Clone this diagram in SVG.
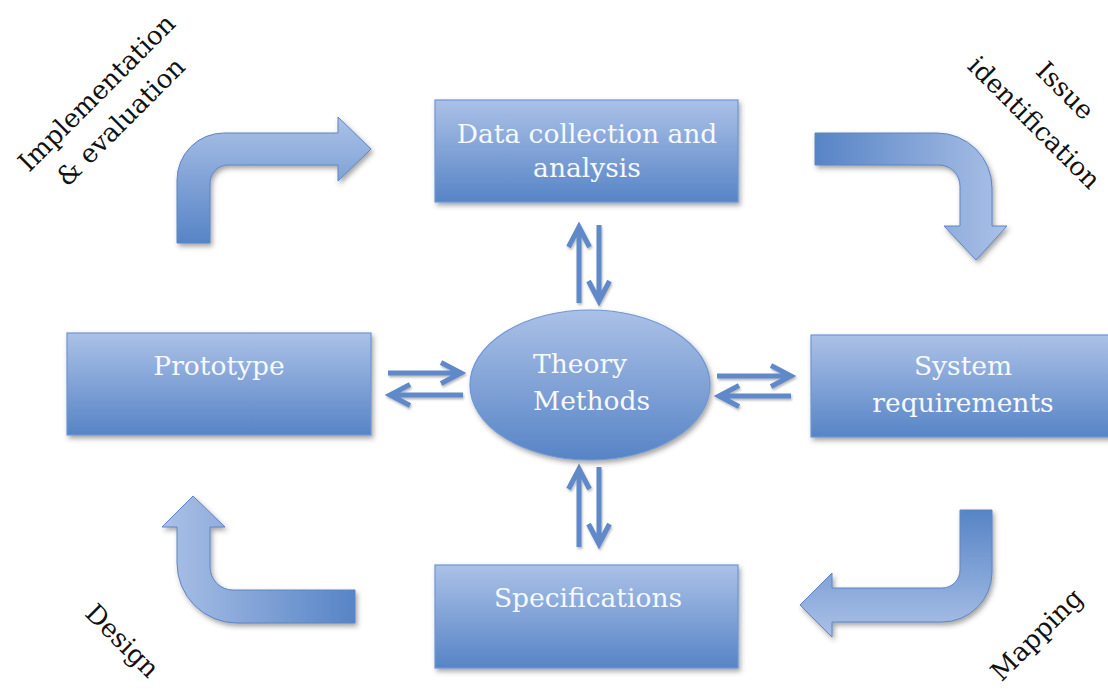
<svg xmlns="http://www.w3.org/2000/svg" width="1108" height="689" viewBox="0 0 1108 689">
  <defs>
    <linearGradient id="gradV" x1="0" y1="0" x2="0" y2="1">
      <stop offset="0" stop-color="#abc1e7"/>
      <stop offset="1" stop-color="#5784c6"/>
    </linearGradient>
    <linearGradient id="gradVrev" x1="0" y1="0" x2="0" y2="1">
      <stop offset="0" stop-color="#5784c6"/>
      <stop offset="1" stop-color="#abc1e7"/>
    </linearGradient>
    <linearGradient id="gradH" x1="0" y1="0" x2="1" y2="0">
      <stop offset="0" stop-color="#5784c6"/>
      <stop offset="1" stop-color="#abc1e7"/>
    </linearGradient>
    <linearGradient id="gradHrev" x1="0" y1="0" x2="1" y2="0">
      <stop offset="0" stop-color="#abc1e7"/>
      <stop offset="1" stop-color="#5784c6"/>
    </linearGradient>
    <filter id="shadow" x="-10%" y="-10%" width="130%" height="140%">
      <feDropShadow dx="2" dy="3" stdDeviation="2.5" flood-color="#3a3a3a" flood-opacity="0.45"/>
    </filter>
    <filter id="shadowThin" x="-20%" y="-20%" width="160%" height="160%">
      <feDropShadow dx="1" dy="2" stdDeviation="1.2" flood-color="#3a3a3a" flood-opacity="0.35"/>
    </filter>
    <style>
      .box { fill: url(#gradV); stroke: #6f97d2; stroke-width: 1.2; filter: url(#shadow); }
      .bent { stroke: #5d86c6; stroke-width: 1; filter: url(#shadow); }
      .label { font-family: "DejaVu Serif", "Liberation Serif", serif; font-size: 26.5px; fill: #f7f9fd; text-anchor: middle; }
      .phase { font-family: "DejaVu Serif", "Liberation Serif", serif; font-size: 26px; fill: #111111; text-anchor: middle; }
      .link { fill: none; stroke: #6089c9; stroke-width: 5; filter: url(#shadowThin); }
    </style>
  </defs>

  <rect width="1108" height="689" fill="#ffffff"/>

  <!-- cycle arrows between the outer boxes -->
  <g id="cycle-arrows">
    <path class="bent" fill="url(#gradV)" d="M177,243 L177,180 A47,47 0 0 1 224,133 L338,133 L338,117 L371,149 L338,181 L338,165 L228,165 A18,18 0 0 0 210,183 L210,243 Z"/>
    <path class="bent" fill="url(#gradH)" d="M815,133 L937,133 A55,55 0 0 1 992,188 L992,226 L1007,226 L976,260 L944,226 L960,226 L960,186 A21,21 0 0 0 939,165 L815,165 Z"/>
    <path class="bent" fill="url(#gradVrev)" d="M960,510 L992,510 L992,572 A50,50 0 0 1 942,622 L832,622 L832,637 L800,605 L832,573 L832,588 L942,588 A18,18 0 0 0 960,570 Z"/>
    <path class="bent" fill="url(#gradHrev)" d="M193,496 L225,527 L210,527 L210,567 A23,23 0 0 0 233,590 L355,590 L355,623 L237,623 A60,60 0 0 1 177,563 L177,527 L162,527 Z"/>
  </g>

  <!-- two-way links with the central node -->
  <g id="connectors">
    <path class="link" d="M579,303 L579,229 M568.5,247 L579,227 L589.5,247"/>
    <path class="link" d="M599,225 L599,299 M588.5,281 L599,301 L609.5,281"/>
    <path class="link" d="M579,547 L579,471 M568.5,489 L579,469 L589.5,489"/>
    <path class="link" d="M599,467 L599,542 M588.5,524 L599,544 L609.5,524"/>
    <path class="link" d="M388,373 L459,373 M441,362.5 L461,373 L441,383.5"/>
    <path class="link" d="M463,395 L392,395 M410,384.5 L390,395 L410,405.5"/>
    <path class="link" d="M717,376 L789,376 M771,365.5 L791,376 L771,386.5"/>
    <path class="link" d="M791,396 L721,396 M739,385.5 L719,396 L739,406.5"/>
  </g>

  <g id="data-collection">
    <rect class="box" x="435" y="100" width="303" height="102"/>
    <text class="label" x="587" y="143">Data collection and</text>
    <text class="label" x="587" y="177">analysis</text>
  </g>

  <g id="prototype">
    <rect class="box" x="67" y="333" width="304" height="102"/>
    <text class="label" x="219" y="375">Prototype</text>
  </g>

  <g id="system-requirements">
    <rect class="box" x="811" y="335" width="304" height="102"/>
    <text class="label" x="963" y="375">System</text>
    <text class="label" x="963" y="412">requirements</text>
  </g>

  <g id="specifications">
    <rect class="box" x="435" y="565" width="303" height="103"/>
    <text class="label" x="588" y="607">Specifications</text>
  </g>

  <g id="theory-methods">
    <ellipse class="box" cx="590" cy="385" rx="120" ry="75"/>
    <text class="label" x="533" y="373" style="text-anchor:start">Theory</text>
    <text class="label" x="533" y="410" style="text-anchor:start">Methods</text>
  </g>

  <!-- phase captions -->
  <g id="phase-implementation">
    <text class="phase" transform="translate(103,99) rotate(-45)">Implementation</text>
    <text class="phase" transform="translate(127,128) rotate(-45)">&amp; evaluation</text>
  </g>
  <g id="phase-issue">
    <text class="phase" transform="translate(1059,97) rotate(45)">Issue</text>
    <text class="phase" transform="translate(1028,129) rotate(45)">identification</text>
  </g>
  <g id="phase-design">
    <text class="phase" transform="translate(116,647) rotate(45)">Design</text>
  </g>
  <g id="phase-mapping">
    <text class="phase" transform="translate(1043,641) rotate(-45)">Mapping</text>
  </g>
</svg>
